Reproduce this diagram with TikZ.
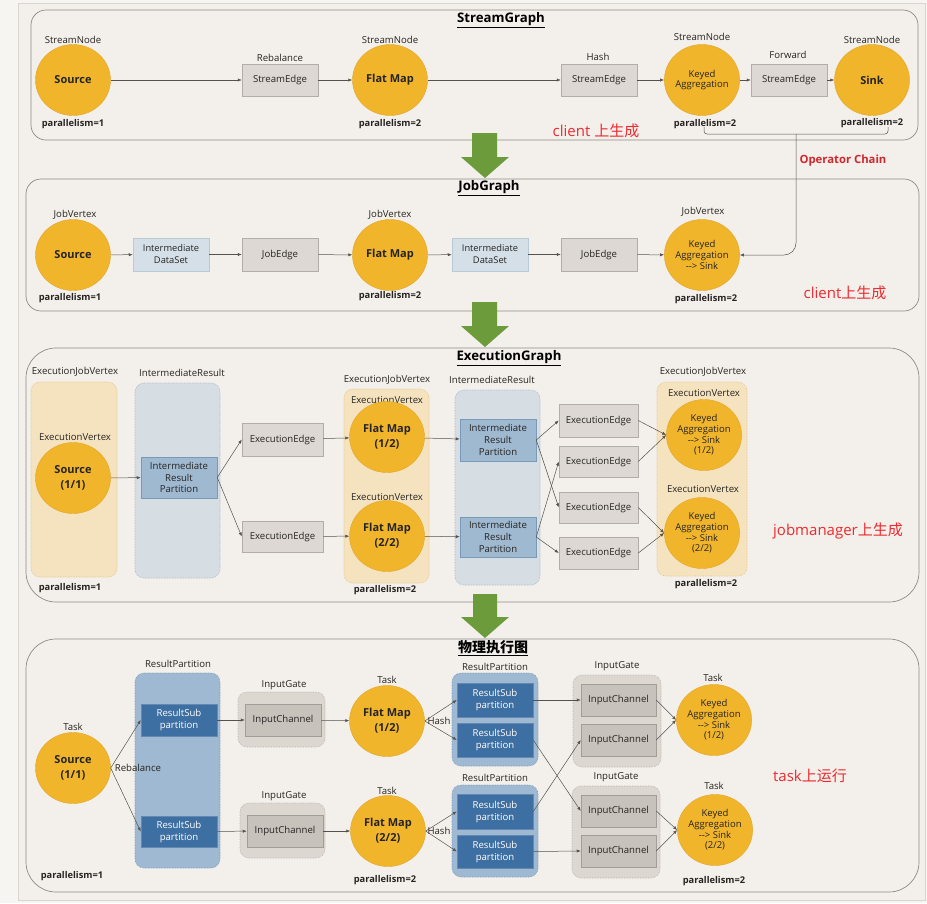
\documentclass[tikz,border=0pt]{standalone}
\usepackage{fontspec}
\setmainfont{Open Sans}
\newfontfamily\cjk{Noto Sans CJK SC}
\usetikzlibrary{shapes.geometric,arrows.meta}
\definecolor{outerc}{HTML}{F7F5F2}
\definecolor{bgc}{HTML}{F3EFEA}
\definecolor{framec}{HTML}{D9D5D0}
\definecolor{panelc}{HTML}{8E8A86}
\definecolor{circc}{HTML}{F1B52C}
\definecolor{circd}{HTML}{E0A528}
\definecolor{grayf}{HTML}{DDD8D3}
\definecolor{grayd}{HTML}{B3ADA7}
\definecolor{lbf}{HTML}{D5DFE7}
\definecolor{lbd}{HTML}{B9CAD7}
\definecolor{irpf}{HTML}{9FB9D1}
\definecolor{irpd}{HTML}{7799BA}
\definecolor{rspf}{HTML}{3E6FA2}
\definecolor{rspd}{HTML}{6389B3}
\definecolor{icf}{HTML}{C8C2BC}
\definecolor{icd}{HTML}{A39D97}
\definecolor{ejvf}{HTML}{F5E3BF}
\definecolor{ejvd}{HTML}{E0BE78}
\definecolor{irf}{HTML}{D6DEE4}
\definecolor{ird}{HTML}{9AB2C6}
\definecolor{rpf}{HTML}{9EB9D1}
\definecolor{rpd}{HTML}{7497BA}
\definecolor{igf}{HTML}{DCD7D1}
\definecolor{igd}{HTML}{B5AFA9}
\definecolor{redc}{HTML}{EE2A30}
\definecolor{opred}{HTML}{D0262E}
\definecolor{greenc}{HTML}{6B9B3B}
\definecolor{linec}{HTML}{55514D}
\definecolor{txtc}{HTML}{262422}
\begin{document}
\begin{tikzpicture}[x=1pt,y=-1pt,
  panel/.style={draw=panelc,line width=0.7pt,fill=bgc},
  op/.style={ellipse,fill=circc,draw=circd,line width=0.4pt,minimum width=75pt,minimum height=71pt,inner sep=0pt,align=center,text=txtc,font=\bfseries\fontsize{11}{15}\selectfont},
  opk/.style={op,font=\fontsize{9.5}{10.6}\selectfont},
  gbox/.style={rectangle,fill=grayf,draw=grayd,line width=0.5pt,minimum width=76pt,minimum height=32pt,inner sep=0pt,align=center,text=txtc,font=\fontsize{9.6}{11}\selectfont},
  lbbox/.style={gbox,fill=lbf,draw=lbd,font=\fontsize{9.3}{12}\selectfont},
  irpbox/.style={gbox,fill=irpf,draw=irpd,minimum height=41pt,font=\fontsize{9.6}{11.8}\selectfont},
  rspbox/.style={gbox,fill=rspf,draw=rspd,text=white,font=\fontsize{9.6}{12}\selectfont},
  icbox/.style={gbox,fill=icf,draw=icd},
  lbl/.style={inner sep=0pt,text=txtc,font=\fontsize{9.6}{11}\selectfont},
  pl/.style={inner sep=0pt,text=txtc,font=\bfseries\fontsize{9.3}{10}\selectfont},
  ttl/.style={inner sep=0pt,text=black,font=\bfseries\fontsize{13.2}{15}\selectfont},
  note/.style={inner sep=0pt,text=redc,font=\fontsize{15}{17}\selectfont},
  cont/.style={rounded corners=9pt,densely dotted,line width=0.6pt},
  arr/.style={draw=linec,line width=0.5pt,-{Latex[length=4pt,width=3.2pt]}},
  garrow/.style={fill=greenc,draw=none}]
\useasboundingbox (0,0) rectangle (927,903);
\fill[outerc] (0,0) rectangle (927,903);
\draw[framec,fill=bgc,line width=0.6pt] (18,3) rectangle (925,900);

% ---------------- panels
\draw[panel,rounded corners=15pt] (31,10) rectangle (918,140);
\draw[panel,rounded corners=15pt] (26,179) rectangle (919,311);
\draw[panel,rounded corners=30pt] (26,348) rectangle (919,602);
\draw[panel,rounded corners=30pt] (26,639) rectangle (919,892);

% ---------------- green arrows
\fill[garrow] (472,133) -- (497,133) -- (497,157) -- (509,157) -- (485,178) -- (461,157) -- (472,157) -- cycle;
\fill[garrow] (472,302) -- (497,302) -- (497,326) -- (509,326) -- (485,347) -- (461,326) -- (472,326) -- cycle;
\fill[garrow] (473,594) -- (497,594) -- (497,617) -- (509,617) -- (485,638) -- (461,617) -- (473,617) -- cycle;

% ================= StreamGraph
\node[ttl] (t1) at (501,20) {\underline{StreamGraph}};
\node[op] (s1) at (73,80) {Source};
\node[lbl] (s1a) at (73,40) {StreamNode};
\node[pl] (s1b) at (73,124) {parallelism=1};
\node[lbl] (se1a) at (280,58) {Rebalance};
\node[gbox] (se1) at (280,80) {StreamEdge};
\node[op] (s2) at (390,80) {Flat Map};
\node[lbl] (s2a) at (390,40) {StreamNode};
\node[pl] (s2b) at (390,124) {parallelism=2};
\node[lbl] (se2a) at (598,57) {Hash};
\node[gbox] (se2) at (599,80) {StreamEdge};
\node[opk] (s3) at (702,80) {Keyed\\Aggregation};
\node[lbl] (s3a) at (702,37) {StreamNode};
\node[pl] (s3b) at (705,124) {parallelism=2};
\node[lbl] (se3a) at (788,55) {Forward};
\node[gbox] (se3) at (789,80) {StreamEdge};
\node[op] (s4) at (872,80) {Sink};
\node[lbl] (s4a) at (872,40) {StreamNode};
\node[pl] (s4b) at (872,123) {parallelism=2};
\node[note] (n1) at (596,131) {client {\cjk 上生成}};
\draw[arr] (s1) -- (se1);
\draw[arr] (se1) -- (s2);
\draw[arr] (s2) -- (se2);
\draw[arr] (se2) -- (s3);
\draw[arr] (s3) -- (se3);
\draw[arr] (se3) -- (s4);

% ================= JobGraph
\node[ttl] (t2) at (489,188) {\underline{JobGraph}};
\node[op] (j1) at (73,255) {Source};
\node[lbl] (j1a) at (75,215) {JobVertex};
\node[pl] (j1b) at (70,298) {parallelism=1};
\node[lbbox,minimum height=33pt] (jd1) at (171,254.5) {Intermediate\\DataSet};
\node[gbox,minimum height=33pt] (je1) at (280,254.5) {JobEdge};
\node[op] (j2) at (390,255) {Flat Map};
\node[lbl] (j2a) at (390,215) {JobVertex};
\node[pl] (j2b) at (390,296) {parallelism=2};
\node[lbbox,minimum height=33pt] (jd2) at (490,254.5) {Intermediate\\DataSet};
\node[gbox,minimum height=33pt] (je2) at (599,254.5) {JobEdge};
\node[opk] (j3) at (702,255) {Keyed\\Aggregation\\-{}-{}> Sink};
\node[lbl] (j3a) at (703,212) {JobVertex};
\node[pl] (j3b) at (706,299) {parallelism=2};
\node[note] (n2) at (845,293) {client{\cjk 上生成}};
\draw[arr] (j1) -- (jd1);
\draw[arr] (jd1) -- (je1);
\draw[arr] (je1) -- (j2);
\draw[arr] (j2) -- (jd2);
\draw[arr] (jd2) -- (je2);
\draw[arr] (je2) -- (j3);

% operator chain
\coordinate (ocl) at (704,127);
\coordinate (ocr) at (888,127);
\coordinate (ocm) at (796,134);
\draw[linec,line width=0.5pt,rounded corners=3pt] (ocl) -- (704,134) -- (888,134) -- (ocr);
\draw[arr,rounded corners=12pt] (ocm) |- (j3.east);
\node[inner sep=0pt,text=opred,font=\bfseries\fontsize{11.3}{13}\selectfont] (oc) at (843,161) {Operator Chain};

% ================= ExecutionGraph
\node[ttl] (t3) at (509,358) {\underline{ExecutionGraph}};
\draw[cont,fill=ejvf,draw=ejvd] (31,382) rectangle (117,577);
\draw[cont,fill=irf,draw=ird] (135,383) rectangle (220,578);
\draw[cont,fill=ejvf,draw=ejvd] (344,389) rectangle (429,583);
\draw[cont,fill=irf,draw=ird] (455,390) rectangle (540,585);
\draw[cont,fill=ejvf,draw=ejvd] (657,382) rectangle (747,576);

\node[lbl] (e1a) at (75,372) {ExecutionJobVertex};
\node[lbl] (e1b) at (75,437) {ExecutionVertex};
\node[op] (e1) at (73,478) {Source\\(1/1)};
\node[pl] (e1c) at (70,588) {parallelism=1};
\node[lbl] (ir1a) at (182,373) {IntermediateResult};
\node[irpbox] (ir1) at (179,477.5) {Intermediate\\Result\\Partition};
\node[gbox,minimum width=81pt,minimum height=33pt] (ee1) at (282.5,439.5) {ExecutionEdge};
\node[gbox,minimum width=81pt,minimum height=31pt] (ee2) at (282.5,536.5) {ExecutionEdge};

\node[lbl] (e2a) at (387,380) {ExecutionJobVertex};
\node[lbl] (e2b) at (387,400) {ExecutionVertex};
\node[op] (e2) at (387,437) {Flat Map\\(1/2)};
\node[lbl] (e3b) at (387,497) {ExecutionVertex};
\node[op] (e3) at (387,536) {Flat Map\\(2/2)};
\node[pl] (e3c) at (385,590) {parallelism=2};

\node[lbl] (ir2a) at (492,380) {IntermediateResult};
\node[irpbox,minimum height=42pt] (ir2) at (498,440) {Intermediate\\Result\\Partition};
\node[irpbox,minimum height=40pt] (ir3) at (498,537) {Intermediate\\Result\\Partition};

\node[gbox,minimum width=79pt,minimum height=33pt] (eea) at (598.5,420.5) {ExecutionEdge};
\node[gbox,minimum width=79pt,minimum height=31pt] (eeb) at (598.5,461.5) {ExecutionEdge};
\node[gbox,minimum width=79pt,minimum height=31pt] (eec) at (598.5,507.5) {ExecutionEdge};
\node[gbox,minimum width=79pt,minimum height=32pt] (eed) at (598.5,553) {ExecutionEdge};

\node[lbl] (e4a) at (703,372) {ExecutionJobVertex};
\node[lbl] (e4b) at (704,393) {ExecutionVertex};
\node[opk] (e4) at (704,435) {Keyed\\Aggregation\\-{}-{}> Sink\\(1/2)};
\node[lbl] (e5b) at (703,489) {ExecutionVertex};
\node[opk] (e5) at (702,533) {Keyed\\Aggregation\\-{}-{}> Sink\\(2/2)};
\node[pl] (e5c) at (706,584) {parallelism=2};
\node[note] (n3) at (838,531) {jobmanager{\cjk 上生成}};

\draw[arr] (e1) -- (ir1);
\draw[arr] (ir1.east) -- (ee1.west);
\draw[arr] (ir1.east) -- (ee2.west);
\draw[arr] (ee1) -- (e2);
\draw[arr] (ee2) -- (e3);
\draw[arr] (e2) -- (ir2);
\draw[arr] (e3) -- (ir3);
\draw[arr] (ir2.east) -- (eea.west);
\draw[arr] (ir2.east) -- (eec.west);
\draw[arr] (ir3.east) -- (eeb.west);
\draw[arr] (ir3.east) -- (eed.west);
\draw[arr] (eea.east) -- (e4.west);
\draw[arr] (eeb.east) -- (e4.west);
\draw[arr] (eec.east) -- (e5.west);
\draw[arr] (eed.east) -- (e5.west);

% ================= physical graph
\node[ttl,font=\bfseries\fontsize{14}{16}\selectfont] (t4) at (493,648) {\underline{\cjk 物理执行图}};
\draw[cont,fill=rpf,draw=rpd] (135,673) rectangle (220,868);
\draw[cont,fill=igf,draw=igd] (238,692) rectangle (325,747);
\draw[cont,fill=igf,draw=igd] (240,803) rectangle (325,858);
\draw[cont,fill=rpf,draw=rpd] (452,673) rectangle (538,766);
\draw[cont,fill=rpf,draw=rpd] (452,785) rectangle (538,877);
\draw[cont,fill=igf,draw=igd] (573,675) rectangle (661,767);
\draw[cont,fill=igf,draw=igd] (572,786) rectangle (660,878);

\node[lbl] (p1a) at (73,727) {Task};
\node[op] (p1) at (73,768) {Source\\(1/1)};
\node[pl] (p1c) at (72,876) {parallelism=1};
\node[lbl] (rp1a) at (178,664) {ResultPartition};
\node[rspbox] (r1) at (179,720) {ResultSub\\partition};
\node[rspbox,minimum height=31pt] (r2) at (179,831.5) {ResultSub\\partition};
\node[lbl] (g1a) at (284,685) {InputGate};
\node[icbox] (c1) at (283,720) {InputChannel};
\node[lbl] (g2a) at (284,796) {InputGate};
\node[icbox] (c2) at (285,831) {InputChannel};

\node[lbl] (p2a) at (387,680) {Task};
\node[op] (p2) at (387,721) {Flat Map\\(1/2)};
\node[lbl] (p3a) at (387,791) {Task};
\node[op] (p3) at (388,831) {Flat Map\\(2/2)};
\node[pl] (p3c) at (385,880) {parallelism=2};

\node[lbl] (rp2a) at (495,667) {ResultPartition};
\node[rspbox,minimum height=34pt] (r11) at (495,700) {ResultSub\\partition};
\node[rspbox,minimum height=34pt] (r12) at (495,740) {ResultSub\\partition};
\node[lbl] (rp3a) at (495,778) {ResultPartition};
\node[rspbox,minimum height=35pt] (r21) at (495,811.5) {ResultSub\\partition};
\node[rspbox,minimum height=33pt] (r22) at (495,851.5) {ResultSub\\partition};

\node[lbl] (g3a) at (617,666) {InputGate};
\node[icbox,minimum width=75pt] (c11) at (618.5,700) {InputChannel};
\node[icbox,minimum width=75pt] (c12) at (618.5,740) {InputChannel};
\node[lbl] (g4a) at (616,777) {InputGate};
\node[icbox,minimum width=75pt] (c21) at (618.5,811) {InputChannel};
\node[icbox,minimum width=75pt] (c22) at (618.5,851) {InputChannel};

\node[lbl] (p4a) at (713,678) {Task};
\node[opk] (p4) at (714,720) {Keyed\\Aggregation\\-{}-{}> Sink\\(1/2)};
\node[lbl] (p5a) at (714,786) {Task};
\node[opk] (p5) at (715,830) {Keyed\\Aggregation\\-{}-{}> Sink\\(2/2)};
\node[pl] (p5c) at (714,881) {parallelism=2};
\node[note] (n4) at (810,776) {task{\cjk 上运行}};

\draw[arr] (p1.east) -- (r1.west);
\draw[arr] (p1.east) -- (r2.west);
\node[lbl] (rb) at (138,768) {Rebalance};
\draw[arr] (r1) -- (c1);
\draw[arr] (r2) -- (c2);
\draw[arr] (c1) -- (p2);
\draw[arr] (c2) -- (p3);
\draw[arr] (p2.east) -- (r11.west);
\draw[arr] (p2.east) -- (r12.west);
\draw[arr] (p3.east) -- (r21.west);
\draw[arr] (p3.east) -- (r22.west);
\node[lbl] (h1) at (439,721) {Hash};
\node[lbl] (h2) at (439,831) {Hash};
\draw[arr] (r11.east) -- (c11.west);
\draw[arr] (r12.east) -- (c21.west);
\draw[arr] (r21.east) -- (c12.west);
\draw[arr] (r22.east) -- (c22.west);
\draw[arr] (c11.east) -- (p4.west);
\draw[arr] (c12.east) -- (p4.west);
\draw[arr] (c21.east) -- (p5.west);
\draw[arr] (c22.east) -- (p5.west);
\end{tikzpicture}
\end{document}
